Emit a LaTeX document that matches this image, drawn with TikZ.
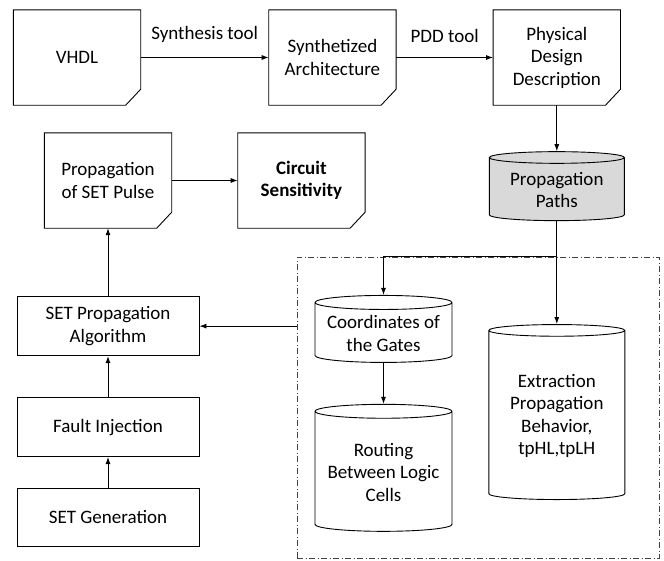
\documentclass[tikz,border=0pt]{standalone}
\usepackage{fontspec}
\setmainfont{Carlito}
\usepackage{tikz}
\usetikzlibrary{arrows.meta,positioning,shapes.geometric}

% outline of a card with the lower right corner cut off
\newcommand{\cardedge}[1]{%
  \draw[line width=0.9pt] (#1.north west) -- (#1.north east) -- ([yshift=16pt]#1.south east)
    -- ([xshift=-15pt]#1.south east) -- (#1.south west) -- cycle;}

\begin{document}
\begin{tikzpicture}[
  x=1pt, y=-1pt,
  font=\fontsize{19}{22.5}\selectfont,
  card/.style={minimum width=127pt, minimum height=95pt, align=center, inner sep=2pt},
  box/.style={draw, line width=0.9pt, minimum width=182pt, minimum height=59pt, align=center},
  store/.style={draw, line width=0.9pt, cylinder, shape border rotate=90, aspect=0.12, align=center, inner sep=2pt},
  zone/.style={draw=black!75, line width=0.6pt, dash pattern=on 6pt off 2.5pt on 1pt off 2.5pt, minimum width=362pt, minimum height=301pt},
  arr/.style={-{Latex[length=7pt, width=5pt]}, line width=0.9pt},
  lbl/.style={above=11pt, midway}
]
\useasboundingbox (0,0) rectangle (664,560);

\node[card] (vhdl) at (77,57.5) {VHDL};
\node[card, right=128pt of vhdl] (synth) {Synthetized\\Architecture};
\node[card, right=97pt of synth] (pdd) {Physical\\Design\\Description};
\node[store, fill=gray!30, minimum width=135pt, minimum height=69pt, below=46pt of pdd] (paths) {Propagation\\Paths};
\node[store, minimum width=136pt, minimum height=175pt, below=103pt of paths] (extract) {Extraction\\Propagation\\Behavior,\\tpHL,tpLH};

\node[card] (pulse) at (108,180.5) {Propagation\\of SET Pulse};
\node[card, right=66pt of pulse, font=\fontsize{19}{22.5}\selectfont\bfseries] (sens) {Circuit\\Sensitivity};
\node[box, below=68pt of pulse] (algo) {SET Propagation\\Algorithm};
\node[box, below=41pt of algo] (fault) {Fault Injection};
\node[box, below=31pt of fault, minimum height=58pt] (gen) {SET Generation};

\node[zone] (area) at (478,407.5) {};
\node[store, minimum width=137pt, minimum height=67pt] (coords) at (383.5,333.5) {Coordinates of\\the Gates};
\node[store, minimum width=137pt, minimum height=127pt, below=41pt of coords] (routing) {Routing\\Between Logic\\Cells};

\foreach \c in {vhdl,synth,pdd,pulse,sens} {\cardedge{\c}}

\draw[arr] (vhdl) -- node[lbl] {Synthesis tool} (synth);
\draw[arr] (synth) -- node[lbl] {PDD tool} (pdd);
\draw[arr] (pdd) -- (paths);
\draw[arr] (paths.south) -- (extract.north);
\draw[arr] (paths.south |- area.north) -| (coords.north);
\draw[arr] (coords) -- (routing);
\draw[arr] (area.west |- algo.east) -- (algo.east);
\draw[arr] (gen) -- (fault);
\draw[arr] (fault) -- (algo);
\draw[arr] (algo) -- (pulse);
\draw[arr] (pulse) -- (sens);
\end{tikzpicture}
\end{document}
